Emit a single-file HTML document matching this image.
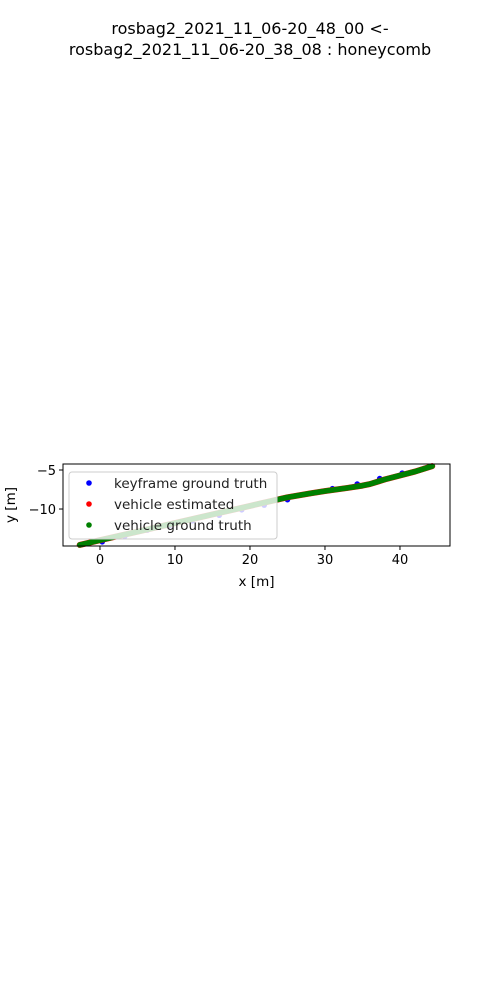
<!DOCTYPE html>
<html><head><meta charset="utf-8"><style>
body{margin:0;background:#fff;width:500px;height:1000px;overflow:hidden;font-family:"Liberation Sans","DejaVu Sans",sans-serif}
</style></head><body>
<svg id="chart" width="500" height="1000" xmlns="http://www.w3.org/2000/svg" font-family="DejaVu Sans, Liberation Sans, sans-serif">
<text x="250" y="34" text-anchor="middle" font-size="16">rosbag2_2021_11_06-20_48_00 &lt;-</text>
<text x="250" y="55" text-anchor="middle" font-size="16">rosbag2_2021_11_06-20_38_08 : honeycomb</text>
<g id="plot"></g>
</svg>
<script>
const gtX = [-2.7, 0, 5, 10, 15, 20, 25, 28, 30, 33, 35, 36, 37, 38, 40, 42, 44.3];
const gtY = [-14.6, -14.0, -12.9, -11.8, -10.7, -9.6, -8.5, -8.0, -7.7, -7.3, -7.0, -6.8, -6.5, -6.2, -5.7, -5.2, -4.5];
const kfX = [0.3, 3.3, 6.3, 9.3, 12.3, 15.9, 18.9, 21.9, 25, 28, 31, 34.3, 37.3, 40.3, 43.3];
const kfY = [-14.2, -13.5, -12.7, -12.1, -11.5, -10.8, -10.1, -9.5, -8.8, -8.0, -7.4, -6.8, -6.1, -5.4, -4.8];
const xTicks = [0, 10, 20, 30, 40];
const yTicks = [-5, -10];
const L=63,R=450,T=464,B=546, xMin=-4.93,xMax=46.67,yMin=-14.74,yMax=-4.23;
const sx=v=>L+(v-xMin)/(xMax-xMin)*(R-L);
const sy=v=>B-(v-yMin)/(yMax-yMin)*(B-T);
const NS="http://www.w3.org/2000/svg", g=document.getElementById('plot');
function mk(t,a,p){const e=document.createElementNS(NS,t);for(const k in a)e.setAttribute(k,a[k]);(p||g).appendChild(e);return e;}
kfX.forEach((x,i)=>{const c=mk('circle',{cx:sx(x),cy:sy(kfY[i]),r:2.8,fill:'#0000ff'});

});
let pts=gtX.map((x,i)=>sx(x)+','+sy(gtY[i])).join(' ');
const est=mk('polyline',{points:pts,fill:'none',stroke:'#ff0000','stroke-width':6,'stroke-linecap':'round','stroke-linejoin':'round'});


const gt=mk('polyline',{points:pts,fill:'none',stroke:'#008000','stroke-width':5.5,'stroke-linecap':'round','stroke-linejoin':'round'});


// legend
const lg=mk('g',{});


mk('rect',{x:69,y:472,width:208,height:67,rx:3,fill:'#fff','fill-opacity':0.8,stroke:'#ccc'},lg);
const entries=[['keyframe ground truth','#0000ff'],['vehicle estimated','#ff0000'],['vehicle ground truth','#008000']];
entries.forEach((e,i)=>{const y=483+i*21;
const c=mk('circle',{cx:89,cy:y,r:2.8,fill:e[1]},lg);


const t=mk('text',{x:114,y:y+5,'font-size':13.5,fill:'#222'},lg);t.textContent=e[0];

});
// axes
const ax=mk('rect',{x:L,y:T,width:R-L,height:B-T,fill:'none',stroke:'#000','stroke-width':1});


xTicks.forEach(v=>{const x=sx(v);mk('line',{x1:x,x2:x,y1:B,y2:B+4,stroke:'#000'});
const t=mk('text',{x:x,y:B+18,'text-anchor':'middle','font-size':13});t.textContent=String(v).replace('-','\u2212');

});
yTicks.forEach(v=>{const y=sy(v);mk('line',{x1:L-4,x2:L,y1:y,y2:y,stroke:'#000'});
const t=mk('text',{x:L-7,y:y+5,'text-anchor':'end','font-size':13});t.textContent=String(v).replace('-','\u2212');

});
const xt=mk('text',{x:(L+R)/2,y:586,'text-anchor':'middle','font-size':13.5});xt.textContent='x [m]';


const yt=mk('text',{x:15,y:(T+B)/2,'text-anchor':'middle','font-size':13.5,transform:'rotate(-90 15 '+((T+B)/2)+')'});yt.textContent='y [m]';


</script>
</body></html>
